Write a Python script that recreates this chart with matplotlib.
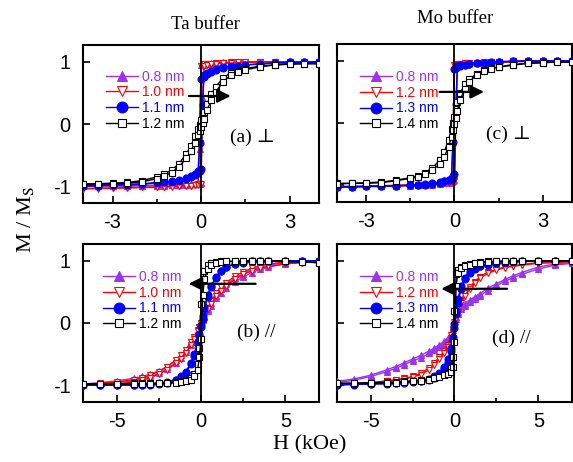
import matplotlib
matplotlib.use("Agg")
import matplotlib.pyplot as plt
from matplotlib.ticker import MultipleLocator

plt.rcParams["font.family"] = ["Liberation Sans", "DejaVu Sans"]
plt.rcParams["mathtext.fontset"] = "stix"
plt.rcParams["axes.unicode_minus"] = False

# ---------------------------------------------------------------- data
# field grids (kOe)
H_perp = [-4, -3.5, -3, -2.5, -2, -1.5, -1.25, -1, -0.75, -0.5, -0.35, -0.2, -0.1, -0.05,
          0, 0.05, 0.1, 0.2, 0.35, 0.5, 0.75, 1, 1.25, 1.5, 2, 2.5, 3, 3.5, 4]
H_par = [-7, -6, -5, -4, -3.5, -3, -2.5, -2, -1.5, -1.2, -0.9, -0.6, -0.4, -0.2, -0.1,
         0, 0.1, 0.2, 0.4, 0.6, 0.9, 1.2, 1.5, 2, 2.5, 3, 3.5, 4, 5, 6, 7]

# (a) Ta buffer, perpendicular  -- down: field sweep from +H, up: sweep from -H
a_08_down = [-1.00, -1.00, -0.99, -0.99, -0.99, -0.99, -0.98, -0.98, -0.98, -0.97, -0.97, -0.96, -0.95, -0.40,
             0.95, 0.96, 0.97, 0.97, 0.98, 0.98, 0.99, 0.99, 0.99, 1.00, 1.00, 1.00, 1.00, 1.00, 1.00]
a_08_up = [-1.00, -1.00, -1.00, -1.00, -0.99, -0.99, -0.99, -0.98, -0.98, -0.98, -0.97, -0.97, -0.96, -0.96,
           -0.95, 0.40, 0.95, 0.96, 0.97, 0.98, 0.98, 0.99, 0.99, 0.99, 1.00, 1.00, 1.00, 1.00, 1.00]
a_10_down = [-1.04, -1.03, -1.03, -1.02, -1.02, -1.01, -1.01, -1.00, -1.00, -0.99, -0.99, -0.98, -0.97, -0.30,
             0.93, 0.95, 0.96, 0.97, 0.97, 0.98, 0.98, 0.99, 0.99, 0.99, 1.00, 1.00, 1.00, 1.00, 1.00]
a_10_up = [-1.04, -1.04, -1.03, -1.03, -1.02, -1.02, -1.01, -1.01, -1.00, -1.00, -0.99, -0.98, -0.98, -0.97,
           -0.96, 0.30, 0.93, 0.95, 0.96, 0.97, 0.98, 0.98, 0.99, 0.99, 1.00, 1.00, 1.00, 1.00, 1.00]
a_11_down = [-1.00, -0.99, -0.98, -0.97, -0.96, -0.94, -0.93, -0.92, -0.90, -0.87, -0.84, -0.80, -0.75, -0.30,
             0.72, 0.76, 0.79, 0.82, 0.85, 0.88, 0.91, 0.93, 0.94, 0.95, 0.97, 0.98, 0.99, 0.99, 1.00]
a_11_up = [-1.00, -0.99, -0.98, -0.98, -0.97, -0.95, -0.94, -0.93, -0.91, -0.88, -0.86, -0.82, -0.79, -0.76,
           -0.72, 0.30, 0.75, 0.80, 0.84, 0.87, 0.90, 0.92, 0.94, 0.95, 0.96, 0.98, 0.99, 0.99, 1.00]
a_12_down = [-0.96, -0.96, -0.95, -0.94, -0.91, -0.85, -0.81, -0.74, -0.64, -0.48, -0.36, -0.20, -0.08, -0.01,
             0.06, 0.13, 0.19, 0.32, 0.48, 0.60, 0.74, 0.82, 0.86, 0.89, 0.93, 0.95, 0.97, 0.97, 0.97]
a_12_up = [-0.97, -0.97, -0.96, -0.95, -0.93, -0.88, -0.84, -0.78, -0.69, -0.55, -0.44, -0.30, -0.18, -0.12,
           -0.05, 0.02, 0.08, 0.22, 0.38, 0.52, 0.68, 0.78, 0.84, 0.87, 0.92, 0.95, 0.96, 0.97, 0.97]

# (c) Mo buffer, perpendicular
c_08_down = [-1.03, -1.02, -1.02, -1.01, -1.01, -1.00, -1.00, -0.99, -0.98, -0.97, -0.96, -0.95, -0.94, -0.30,
             0.92, 0.93, 0.94, 0.95, 0.96, 0.96, 0.97, 0.98, 0.98, 0.99, 0.99, 1.00, 1.00, 1.00, 1.00]
c_08_up = [-1.03, -1.03, -1.02, -1.02, -1.01, -1.01, -1.00, -1.00, -0.99, -0.98, -0.97, -0.96, -0.95, -0.94,
           -0.92, 0.30, 0.94, 0.95, 0.95, 0.96, 0.97, 0.97, 0.98, 0.99, 0.99, 1.00, 1.00, 1.00, 1.00]
c_12_down = [-1.02, -1.02, -1.01, -1.01, -1.00, -1.00, -0.99, -0.99, -0.98, -0.97, -0.96, -0.95, -0.94, -0.20,
             0.93, 0.94, 0.95, 0.95, 0.96, 0.97, 0.97, 0.98, 0.98, 0.98, 0.99, 0.99, 0.99, 0.99, 0.99]
c_12_up = [-1.02, -1.02, -1.02, -1.01, -1.01, -1.00, -1.00, -0.99, -0.99, -0.98, -0.97, -0.96, -0.95, -0.95,
           -0.93, 0.20, 0.94, 0.95, 0.96, 0.96, 0.97, 0.97, 0.98, 0.98, 0.99, 0.99, 0.99, 0.99, 0.99]
c_13_down = [-1.03, -1.03, -1.02, -1.01, -1.01, -1.00, -0.99, -0.98, -0.97, -0.95, -0.93, -0.91, -0.88, -0.30,
             0.86, 0.89, 0.91, 0.93, 0.94, 0.95, 0.96, 0.97, 0.98, 0.98, 0.99, 1.00, 1.00, 1.00, 1.00]
c_13_up = [-1.03, -1.03, -1.02, -1.02, -1.01, -1.00, -1.00, -0.99, -0.98, -0.96, -0.94, -0.92, -0.90, -0.86,
           -0.82, 0.30, 0.90, 0.92, 0.93, 0.95, 0.96, 0.97, 0.97, 0.98, 0.99, 0.99, 1.00, 1.00, 1.00]
c_14_down = [-0.97, -0.97, -0.96, -0.95, -0.92, -0.88, -0.85, -0.80, -0.72, -0.60, -0.47, -0.27, -0.10, 0.00,
             0.10, 0.22, 0.33, 0.48, 0.62, 0.70, 0.79, 0.85, 0.88, 0.90, 0.94, 0.96, 0.97, 0.98, 0.98]
c_14_up = [-0.98, -0.97, -0.97, -0.96, -0.93, -0.89, -0.87, -0.82, -0.75, -0.66, -0.55, -0.38, -0.22, -0.12,
           -0.02, 0.08, 0.20, 0.37, 0.55, 0.66, 0.77, 0.83, 0.87, 0.90, 0.93, 0.96, 0.97, 0.98, 0.98]

# (b) Ta buffer, in-plane
b_08_down = [-0.98, -0.96, -0.93, -0.89, -0.86, -0.82, -0.77, -0.70, -0.60, -0.52, -0.43, -0.31, -0.22, -0.12, -0.06,
             0.00, 0.06, 0.12, 0.22, 0.32, 0.44, 0.54, 0.62, 0.72, 0.79, 0.86, 0.90, 0.93, 0.97, 0.99, 1.00]
b_08_up = [-0.99, -0.98, -0.96, -0.93, -0.90, -0.86, -0.81, -0.74, -0.64, -0.56, -0.47, -0.35, -0.25, -0.14, -0.08,
           -0.02, 0.04, 0.10, 0.19, 0.28, 0.40, 0.49, 0.57, 0.66, 0.74, 0.81, 0.86, 0.90, 0.95, 0.98, 0.99]
b_10_down = [-0.99, -0.97, -0.95, -0.91, -0.88, -0.84, -0.78, -0.70, -0.60, -0.52, -0.43, -0.31, -0.22, -0.12, -0.06,
             0.00, 0.07, 0.13, 0.24, 0.35, 0.48, 0.58, 0.65, 0.75, 0.82, 0.88, 0.92, 0.95, 0.98, 0.99, 1.00]
b_10_up = [-1.00, -0.99, -0.98, -0.95, -0.92, -0.88, -0.82, -0.75, -0.65, -0.58, -0.48, -0.35, -0.25, -0.13, -0.07,
           0.00, 0.06, 0.12, 0.22, 0.31, 0.43, 0.52, 0.60, 0.70, 0.78, 0.84, 0.88, 0.91, 0.95, 0.97, 0.99]
b_11_down = [-1.00, -1.00, -1.00, -0.99, -0.99, -0.98, -0.97, -0.95, -0.91, -0.86, -0.78, -0.64, -0.50, -0.30, -0.17,
             -0.03, 0.12, 0.26, 0.45, 0.60, 0.74, 0.84, 0.90, 0.95, 0.98, 0.99, 1.00, 1.00, 1.00, 1.00, 1.00]
b_11_up = [-1.00, -1.00, -1.00, -1.00, -0.99, -0.99, -0.98, -0.96, -0.92, -0.87, -0.80, -0.66, -0.53, -0.34, -0.21,
           -0.07, 0.07, 0.22, 0.42, 0.58, 0.73, 0.83, 0.90, 0.95, 0.97, 0.99, 1.00, 1.00, 1.00, 1.00, 1.00]
b_12_down = [-0.98, -0.98, -0.98, -0.97, -0.97, -0.97, -0.97, -0.96, -0.95, -0.94, -0.92, -0.88, -0.82, -0.66, -0.40,
             0.30, 0.70, 0.84, 0.93, 0.96, 0.98, 0.99, 0.99, 0.99, 1.00, 1.00, 1.00, 1.00, 0.99, 0.98, 0.97]
b_12_up = [-0.98, -0.98, -0.98, -0.98, -0.98, -0.98, -0.97, -0.97, -0.96, -0.95, -0.94, -0.91, -0.86, -0.75, -0.55,
           -0.25, 0.45, 0.70, 0.86, 0.93, 0.96, 0.98, 0.99, 0.99, 1.00, 1.00, 1.00, 1.00, 0.99, 0.98, 0.97]

# (d) Mo buffer, in-plane
d_08_down = [-0.94, -0.90, -0.84, -0.75, -0.70, -0.64, -0.58, -0.52, -0.45, -0.40, -0.35, -0.29, -0.24, -0.16, -0.08,
             0.02, 0.10, 0.17, 0.25, 0.31, 0.37, 0.42, 0.47, 0.56, 0.63, 0.70, 0.76, 0.81, 0.90, 0.95, 0.97]
d_08_up = [-0.96, -0.92, -0.86, -0.78, -0.73, -0.67, -0.61, -0.56, -0.49, -0.44, -0.39, -0.33, -0.27, -0.19, -0.12,
           -0.04, 0.06, 0.14, 0.22, 0.28, 0.34, 0.39, 0.44, 0.52, 0.60, 0.67, 0.73, 0.78, 0.87, 0.93, 0.96]
d_12_down = [-0.98, -0.97, -0.96, -0.93, -0.91, -0.89, -0.86, -0.81, -0.72, -0.64, -0.55, -0.45, -0.35, -0.20, -0.10,
             0.02, 0.12, 0.22, 0.36, 0.48, 0.58, 0.66, 0.74, 0.82, 0.86, 0.90, 0.92, 0.94, 0.97, 0.98, 0.99]
d_12_up = [-0.99, -0.98, -0.97, -0.94, -0.92, -0.90, -0.87, -0.83, -0.75, -0.67, -0.58, -0.48, -0.38, -0.24, -0.14,
           -0.04, 0.08, 0.18, 0.32, 0.44, 0.55, 0.64, 0.72, 0.80, 0.85, 0.89, 0.91, 0.93, 0.96, 0.97, 0.99]
d_13_down = [-0.99, -0.98, -0.98, -0.97, -0.96, -0.95, -0.94, -0.93, -0.90, -0.86, -0.80, -0.70, -0.58, -0.40, -0.22,
             -0.02, 0.20, 0.38, 0.60, 0.73, 0.83, 0.89, 0.92, 0.95, 0.97, 0.98, 0.99, 0.99, 1.00, 1.00, 1.00]
d_13_up = [-1.00, -0.99, -0.98, -0.98, -0.97, -0.96, -0.95, -0.94, -0.92, -0.89, -0.83, -0.74, -0.62, -0.45, -0.28,
           -0.08, 0.14, 0.32, 0.55, 0.70, 0.80, 0.87, 0.91, 0.94, 0.96, 0.97, 0.98, 0.99, 0.99, 1.00, 1.00]
d_14_down = [-0.97, -0.97, -0.96, -0.95, -0.95, -0.94, -0.93, -0.92, -0.90, -0.88, -0.85, -0.82, -0.80, -0.72, -0.55,
             0.20, 0.78, 0.85, 0.90, 0.93, 0.95, 0.97, 0.98, 0.99, 0.99, 1.00, 1.00, 1.00, 1.00, 1.00, 1.00]
d_14_up = [-0.97, -0.97, -0.97, -0.96, -0.96, -0.95, -0.94, -0.93, -0.91, -0.89, -0.87, -0.84, -0.82, -0.78, -0.70,
           -0.30, 0.60, 0.80, 0.88, 0.92, 0.94, 0.96, 0.97, 0.98, 0.99, 0.99, 1.00, 1.00, 1.00, 1.00, 1.00]

labels_ta = ["0.8 nm", "1.0 nm", "1.1 nm", "1.2 nm"]
labels_mo = ["0.8 nm", "1.2 nm", "1.3 nm", "1.4 nm"]

# ---------------------------------------------------------------- style
styles = [dict(color="#9933EE", marker="^", mfc="#9933EE"),
          dict(color="#FF0000", marker="v", mfc="white"),
          dict(color="#0000FF", marker="o", mfc="#0000FF"),
          dict(color="black", marker="s", mfc="white")]
msizes = [4.5, 4.5, 5, 4]
serif = ["Liberation Serif", "DejaVu Serif"]


def draw_panel(ax, H, curves, labels, xlim, xmaj, xmin, tag, tag_xy, arrow, leg_anchor, ylabels):
    handles = []
    for i, (down, up) in enumerate(curves):
        st = styles[i]
        kw = dict(color=st["color"], marker=st["marker"], mfc=st["mfc"], mec=st["color"],
                  ms=msizes[i], lw=1.0, mew=0.8, zorder=3 + i)
        h, = ax.plot(H, down, label=labels[i], **kw)
        ax.plot(H, up, **kw)
        handles.append(h)
    ax.axvline(0, color="black", lw=1.3, zorder=10)
    ax.set_xlim(*xlim)
    ax.set_ylim(-1.27, 1.27)
    ax.xaxis.set_major_locator(MultipleLocator(xmaj))
    ax.xaxis.set_minor_locator(MultipleLocator(xmin))
    ax.set_yticks([-1, 0, 1])
    ax.tick_params(which="both", direction="in", labelsize=14.5, width=1.2)
    ax.tick_params(which="major", length=5, pad=7)
    ax.tick_params(which="minor", length=3)
    ax.tick_params(axis="y", pad=9)
    if not ylabels:
        ax.set_yticklabels([])
    for sp in ax.spines.values():
        sp.set_linewidth(1.5)
    ax.text(tag_xy[0], tag_xy[1], tag, family=serif, fontsize=14, ha="center", va="center")
    ax.annotate("", xy=arrow[1], xytext=arrow[0],
                arrowprops=dict(arrowstyle="-|>", color="black", lw=1.6, mutation_scale=20),
                zorder=12)
    leg = ax.legend(handles=handles, loc="upper left", bbox_to_anchor=leg_anchor, frameon=False,
                    fontsize=10, handlelength=2.3, handletextpad=0.3, labelspacing=0.12,
                    labelcolor="linecolor", borderaxespad=0, markerscale=1.55)
    leg.set_zorder(20)


fig = plt.figure(figsize=(5.73, 4.62), dpi=100)
ax_a = fig.add_axes([0.1449, 0.5606, 0.4119, 0.3420])
ax_c = fig.add_axes([0.5881, 0.5628, 0.4101, 0.3420])
ax_b = fig.add_axes([0.1449, 0.1299, 0.4119, 0.3420])
ax_d = fig.add_axes([0.5881, 0.1299, 0.4101, 0.3420])

draw_panel(ax_a, H_perp, [(a_08_down, a_08_up), (a_10_down, a_10_up), (a_11_down, a_11_up), (a_12_down, a_12_up)],
           labels_ta, (-4, 4), 3, 1.5, "(a) \u22a5", (1.75, -0.22), ((-0.5, 0.45), (1.1, 0.45)),
           (0.075, 0.88), True)
draw_panel(ax_c, H_perp, [(c_08_down, c_08_up), (c_12_down, c_12_up), (c_13_down, c_13_up), (c_14_down, c_14_up)],
           labels_mo, (-4, 4), 3, 1.5, "(c) \u22a5", (1.85, -0.18), ((-0.6, 0.5), (1.1, 0.5)),
           (0.075, 0.87), False)
draw_panel(ax_b, H_par, [(b_08_down, b_08_up), (b_10_down, b_10_up), (b_11_down, b_11_up), (b_12_down, b_12_up)],
           labels_ta, (-7, 7), 5, 2.5, "(b) //", (3.3, -0.15), ((3.4, 0.63), (-0.9, 0.63)),
           (0.06, 0.87), True)
draw_panel(ax_d, H_par, [(d_08_down, d_08_up), (d_12_down, d_12_up), (d_13_down, d_13_up), (d_14_down, d_14_up)],
           labels_mo, (-7, 7), 5, 2.5, "(d) //", (3.4, -0.24), ((3.3, 0.55), (-0.95, 0.55)),
           (0.075, 0.87), False)

fig.text(0.358, 0.946, "Ta buffer", family=serif, fontsize=13.5, ha="center", va="center")
fig.text(0.794, 0.961, "Mo buffer", family=serif, fontsize=13.5, ha="center", va="center")
fig.text(0.044, 0.524, r"M / M$_\mathrm{S}$", family=serif, fontsize=16, ha="center", va="center",
         rotation=90)
fig.text(0.541, 0.037, "H (kOe)", family=serif, fontsize=16, ha="center", va="center")

fig.savefig("out.png", dpi=100)
